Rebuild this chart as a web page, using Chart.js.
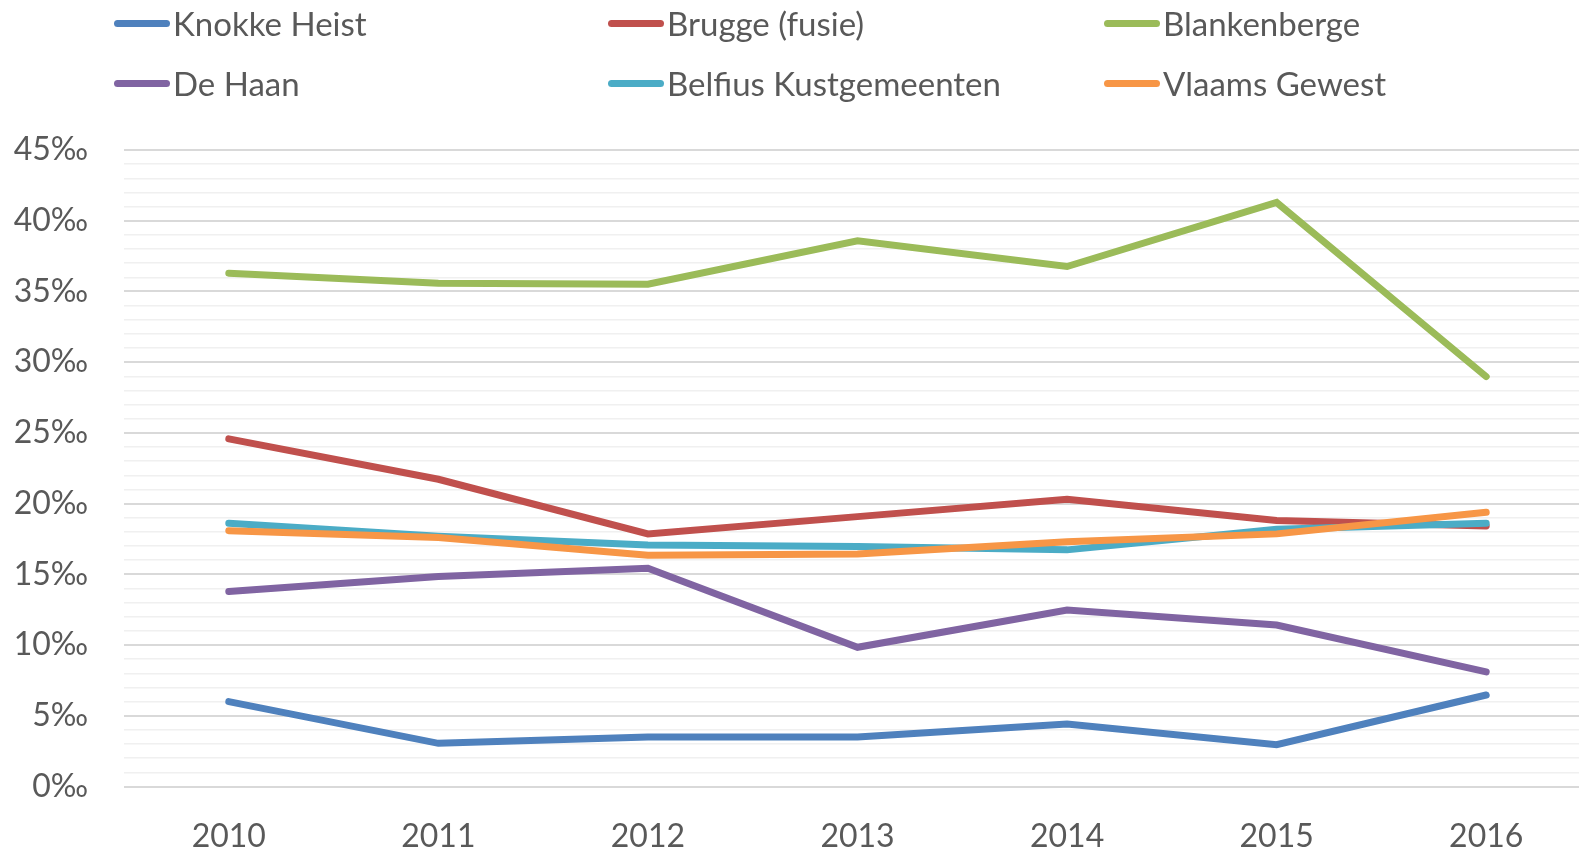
<!DOCTYPE html>
<html>
<head>
<meta charset="utf-8">
<script src="https://cdn.jsdelivr.net/npm/chart.js@4/dist/chart.umd.min.js"></script>
<style>
  html, body { margin: 0; padding: 0; background: #fff; overflow: hidden; }
  #wrap { position: absolute; left: 0; top: 0; width: 1591px; height: 851px; }
  #legend { position: absolute; left: 0; top: 0; width: 1579px; height: 120px; }
  .item { position: absolute; display: flex; align-items: center; height: 40px;
          font-family: Lato, sans-serif; font-size: 33px; color: #595959; white-space: nowrap; }
  .swatch { width: 56px; height: 7px; border-radius: 3.5px; margin-right: 3px; }
</style>
</head>
<body>
<div id="wrap"><canvas id="chart" width="1591" height="851"></canvas></div>
<div id="legend"></div>
<script>
const years = ['2010', '2011', '2012', '2013', '2014', '2015', '2016'];

const seriesNames = ['Knokke Heist', 'Brugge (fusie)', 'Blankenberge', 'De Haan', 'Belfius Kustgemeenten', 'Vlaams Gewest'];
const seriesColors = ['#4F81BD', '#C0504D', '#9BBB59', '#8064A2', '#4BACC6', '#F79646'];

const knokkeHeist = [6.0, 3.05, 3.5, 3.5, 4.42, 2.95, 6.47];
const brugge = [24.58, 21.72, 17.86, 19.08, 20.31, 18.8, 18.42];
const blankenberge = [36.29, 35.58, 35.51, 38.58, 36.76, 41.29, 28.98];
const deHaan = [13.78, 14.84, 15.43, 9.84, 12.48, 11.42, 8.1];
const belfius = [18.61, 17.7, 17.08, 16.96, 16.73, 18.19, 18.61];
const vlaamsGewest = [18.09, 17.6, 16.35, 16.44, 17.31, 17.86, 19.39];

const seriesValues = [knokkeHeist, brugge, blankenberge, deHaan, belfius, vlaamsGewest];

// legend grid: 3 columns, 2 rows
const legendCols = [114, 608, 1104];
const legendRows = [3, 63];

function buildLegend() {
  const legend = document.getElementById('legend');
  seriesNames.forEach((name, i) => {
    const item = document.createElement('div');
    item.className = 'item';
    item.style.left = legendCols[i % 3] + 'px';
    item.style.top = legendRows[Math.floor(i / 3)] + 'px';
    item.innerHTML = `<span class="swatch" style="background:${seriesColors[i]}"></span><span>${name}</span>`;
    legend.appendChild(item);
  });
}

const datasets = seriesNames.map((name, i) => ({
  label: name,
  data: seriesValues[i],
  borderColor: seriesColors[i],
  backgroundColor: seriesColors[i],
  borderWidth: 7,
  borderCapStyle: 'round',
  pointRadius: 0,
  tension: 0,
  fill: false,
  order: -i
}));

const ctx = document.getElementById('chart').getContext('2d');

new Chart(ctx, {
  type: 'line',
  data: {
    labels: years,
    datasets: datasets
  },
  options: {
    responsive: false,
    animation: false,
    layout: {
      padding: { top: 150, right: 0, bottom: 0, left: 0 }
    },
    plugins: {
      legend: { display: false },
      tooltip: { enabled: false }
    },
    scales: {
      x: {
        offset: true,
        grid: { display: false },
        border: { display: false },
        ticks: {
          color: '#595959',
          padding: 23,
          font: { family: 'Lato', size: 32 }
        },
        afterFit: function(scale) {
          scale.height = 64.5;
        }
      },
      y: {
        min: 0,
        max: 45,
        border: { display: false },
        grid: {
          drawTicks: false,
          color: function(context) {
            return context.tick.value % 5 === 0 ? '#d9d9d9' : '#f0f0f0';
          },
          lineWidth: function(context) {
            return context.tick.value % 5 === 0 ? 2 : 1.5;
          }
        },
        ticks: {
          stepSize: 1,
          autoSkip: false,
          maxTicksLimit: 100,
          color: '#595959',
          padding: 36,
          font: { family: 'Lato', size: 32 },
          callback: function(value) {
            return value % 5 === 0 ? value + '‰' : '';
          }
        },
        afterFit: function(scale) {
          scale.width = 124;
        }
      }
    }
  }
});

buildLegend();
</script>
</body>
</html>
